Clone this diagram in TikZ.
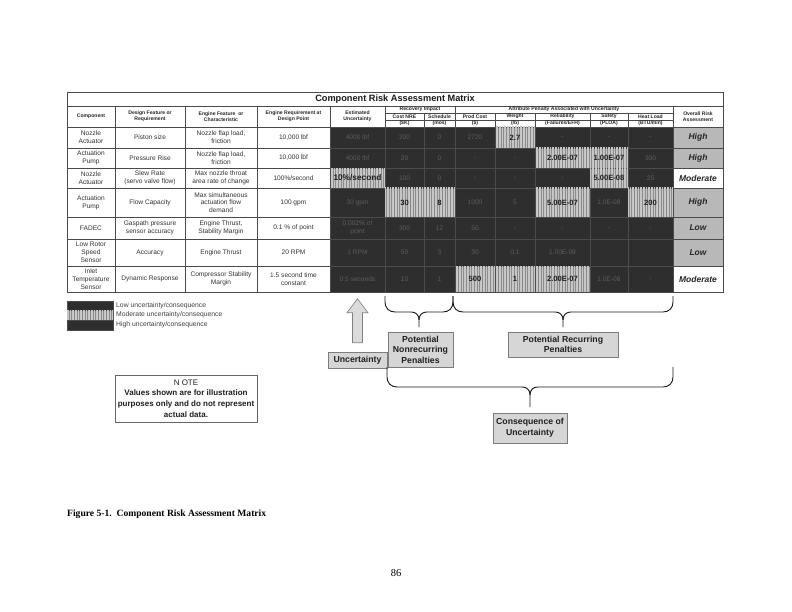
\documentclass[tikz,border=0pt]{standalone}
\usepackage{fontspec}
\setmainfont{Liberation Sans}
\newfontfamily\seriffont{Liberation Serif}
\usetikzlibrary{patterns.meta,calc}
\definecolor{dkfill}{HTML}{2E2E2E}
\definecolor{dktext}{HTML}{5C5C5C}
\definecolor{modbase}{HTML}{8C8C8C}
\definecolor{modstripe}{HTML}{C6C6C6}
\definecolor{ltfill}{HTML}{B8B8B8}
\definecolor{gridc}{HTML}{4A4A4A}
\definecolor{callfill}{HTML}{D6D6D6}
\definecolor{callline}{HTML}{7C7C7C}
\tikzset{
  cw/.style={draw=gridc,line width=0.45pt,fill=white},
  cwt/.style={font=\fontsize{6.6}{7.8}\selectfont,align=center,text=black!80,inner sep=0pt},
  ch/.style={draw=gridc,line width=0.45pt,fill=white},
  cht/.style={font=\bfseries\fontsize{5.1}{5.9}\selectfont,align=center,text=black!85,inner sep=0pt},
  cti/.style={draw=gridc,line width=0.45pt,fill=white},
  ctit/.style={font=\bfseries\fontsize{9.2}{10}\selectfont,text=black!90,inner sep=0pt},
  cdk/.style={draw=black!70,line width=0.4pt,fill=dkfill},
  cdkt/.style={font=\fontsize{6.6}{7.6}\selectfont,align=center,text=dktext,inner sep=0pt},
  cmd/.style={draw=black!70,line width=0.4pt,fill=modbase,
     postaction={pattern={Lines[angle=90,distance=1.6pt,line width=0.7pt]},pattern color=modstripe}},
  cmdt/.style={font=\bfseries\fontsize{7.6}{8.5}\selectfont,align=center,text=black!88,inner sep=0pt},
  cr/.style={draw=gridc,line width=0.45pt,fill=ltfill},
  crt/.style={font=\bfseries\itshape\fontsize{8.5}{9.5}\selectfont,text=black!85,inner sep=0pt},
  cwr/.style={draw=gridc,line width=0.45pt,fill=white},
  cwrt/.style={font=\bfseries\itshape\fontsize{8.5}{9.5}\selectfont,text=black!85,inner sep=0pt},
  legt/.style={font=\fontsize{6.8}{8}\selectfont,text=black!75,inner sep=0pt,anchor=west},
  callout/.style={draw=callline,line width=0.6pt,fill=callfill,align=center,inner sep=0pt,
     font=\bfseries\fontsize{8.7}{10.6}\selectfont,text=black!88},
  notebox/.style={draw=black!60,line width=0.6pt,fill=white,align=center,inner sep=0pt,
     font=\fontsize{8}{10.8}\selectfont,text=black!88},
  bracel/.style={draw=black!90,line width=0.9pt},
  blockarr/.style={draw=black!50,line width=0.6pt,fill=black!14}
}
% cell with explicit corners
\newcommand\T[7]{\path[#1] (#3,#4) rectangle (#5,#6);
  \node[#1t] (#2) at ({(#3+#5)/2},{(#4+#6)/2}) {#7};}
% cell in current row
\newcommand\C[5]{\T{#1}{#2}{#3}{\ya}{#4}{\yb}{#5}}
% curly brace pointing down
\newcommand\bracedown[5]{%
  \pgfmathsetmacro\xc{(#1+#2)/2}
  \draw[bracel] (#1,#3) -- (#1,#4-10) .. controls (#1,#4-4) and (#1+4,#4) .. (#1+10,#4)
     -- (\xc-8,#4) .. controls (\xc-3,#4) and (\xc,#4+3) .. (\xc,#4+8) -- (\xc,#5);
  \draw[bracel] (#2,#3) -- (#2,#4-10) .. controls (#2,#4-4) and (#2-4,#4) .. (#2-10,#4)
     -- (\xc+8,#4) .. controls (\xc+3,#4) and (\xc,#4+3) .. (\xc,#4+8);
}
\begin{document}
\begin{tikzpicture}[x=1pt,y=-1pt]
\useasboundingbox[fill=white] (0,0) rectangle (792,612);

% title row
\T{cti}{title}{67}{92}{723}{106}{Component Risk Assessment Matrix}

% header
\def\ya{106}\def\yb{127}
\C{ch}{h1}{67}{115}{Component}
\C{ch}{h2}{115}{185}{Design Feature or\\Requirement}
\C{ch}{h3}{185}{257}{Engine Feature\ \ or\\Characteristic}
\C{ch}{h4}{257}{330}{Engine Requirement at\\Design Point}
\C{ch}{h5}{330}{385}{Estimated\\Uncertainty}
\C{ch}{h13}{673}{723}{Overall Risk\\Assessment}
\T{ch}{hri}{385}{106}{455}{113}{Recovery Impact}
\T{ch}{hap}{455}{106}{673}{113}{Attribute Penalty Associated with Uncertainty}
\def\ya{113}\def\yb{120}
\C{ch}{h6}{385}{424}{Cost NRE}
\C{ch}{h7}{424}{455}{Schedule}
\C{ch}{h8}{455}{495}{Prod Cost}
\C{ch}{h9}{495}{535}{Weight}
\C{ch}{h10}{535}{590}{Reliability}
\C{ch}{h11}{590}{628}{Safety}
\C{ch}{h12}{628}{673}{Heat Load}
\def\ya{120}\def\yb{127}
\C{ch}{u6}{385}{424}{(\$K)}
\C{ch}{u7}{424}{455}{(mos)}
\C{ch}{u8}{455}{495}{(\$)}
\C{ch}{u9}{495}{535}{(lb)}
\C{ch}{u10}{535}{590}{(Failures/EFH)}
\C{ch}{u11}{590}{628}{(PLOA)}
\C{ch}{u12}{628}{673}{(BTU/min)}

% row 1
\def\ya{127}\def\yb{148}
\C{cw}{r1a}{67}{115}{Nozzle\\Actuator}
\C{cw}{r1b}{115}{185}{Piston size}
\C{cw}{r1c}{185}{257}{Nozzle flap load,\\friction}
\C{cw}{r1d}{257}{330}{10,000 lbf}
\C{cdk}{r1e}{330}{385}{4000 lbf}
\C{cdk}{r1f}{385}{424}{200}
\C{cdk}{r1g}{424}{455}{0}
\C{cdk}{r1h}{455}{495}{2720}
\C{cmd}{r1i}{495}{535}{2.7}
\C{cdk}{r1j}{535}{590}{-}
\C{cdk}{r1k}{590}{628}{-}
\C{cdk}{r1l}{628}{673}{-}
\C{cr}{r1m}{673}{723}{High}

% row 2
\def\ya{148}\def\yb{168}
\C{cw}{r2a}{67}{115}{Actuation\\Pump}
\C{cw}{r2b}{115}{185}{Pressure Rise}
\C{cw}{r2c}{185}{257}{Nozzle flap load,\\friction}
\C{cw}{r2d}{257}{330}{10,000 lbf}
\C{cdk}{r2e}{330}{385}{4000 lbf}
\C{cdk}{r2f}{385}{424}{20}
\C{cdk}{r2g}{424}{455}{0}
\C{cdk}{r2h}{455}{495}{-}
\C{cdk}{r2i}{495}{535}{-}
\C{cmd}{r2j}{535}{590}{2.00E-07}
\C{cmd}{r2k}{590}{628}{1.00E-07}
\C{cdk}{r2l}{628}{673}{300}
\C{cr}{r2m}{673}{723}{High}

% row 3
\def\ya{168}\def\yb{188}
\C{cw}{r3a}{67}{115}{Nozzle\\Actuator}
\C{cw}{r3b}{115}{185}{Slew Rate\\(servo valve flow)}
\C{cw}{r3c}{185}{257}{Max nozzle throat\\area rate of change}
\C{cw}{r3d}{257}{330}{100\%/second}
\C{cmd}{r3e}{330}{385}{\fontsize{8.3}{9}\selectfont 10\%/second}
\C{cdk}{r3f}{385}{424}{100}
\C{cdk}{r3g}{424}{455}{0}
\C{cdk}{r3h}{455}{495}{-}
\C{cdk}{r3i}{495}{535}{-}
\C{cdk}{r3j}{535}{590}{-}
\C{cmd}{r3k}{590}{628}{5.00E-08}
\C{cdk}{r3l}{628}{673}{25}
\C{cwr}{r3m}{673}{723}{Moderate}

% row 4
\def\ya{188}\def\yb{217}
\C{cw}{r4a}{67}{115}{Actuation\\Pump}
\C{cw}{r4b}{115}{185}{Flow Capacity}
\C{cw}{r4c}{185}{257}{Max simultaneous\\actuation flow\\demand}
\C{cw}{r4d}{257}{330}{100 gpm}
\C{cdk}{r4e}{330}{385}{30 gpm}
\C{cmd}{r4f}{385}{424}{30}
\C{cmd}{r4g}{424}{455}{8}
\C{cdk}{r4h}{455}{495}{1000}
\C{cdk}{r4i}{495}{535}{5}
\C{cmd}{r4j}{535}{590}{5.00E-07}
\C{cdk}{r4k}{590}{628}{1.0E-08}
\C{cmd}{r4l}{628}{673}{200}
\C{cr}{r4m}{673}{723}{High}

% row 5
\def\ya{217}\def\yb{239}
\C{cw}{r5a}{67}{115}{FADEC}
\C{cw}{r5b}{115}{185}{Gaspath pressure\\sensor accuracy}
\C{cw}{r5c}{185}{257}{Engine Thrust,\\Stability Margin}
\C{cw}{r5d}{257}{330}{0.1 \% of point}
\C{cdk}{r5e}{330}{385}{0.002\% of\\point}
\C{cdk}{r5f}{385}{424}{300}
\C{cdk}{r5g}{424}{455}{12}
\C{cdk}{r5h}{455}{495}{50}
\C{cdk}{r5i}{495}{535}{-}
\C{cdk}{r5j}{535}{590}{-}
\C{cdk}{r5k}{590}{628}{-}
\C{cdk}{r5l}{628}{673}{-}
\C{cr}{r5m}{673}{723}{Low}

% row 6
\def\ya{239}\def\yb{266}
\C{cw}{r6a}{67}{115}{Low Rotor\\Speed\\Sensor}
\C{cw}{r6b}{115}{185}{Accuracy}
\C{cw}{r6c}{185}{257}{Engine Thrust}
\C{cw}{r6d}{257}{330}{20 RPM}
\C{cdk}{r6e}{330}{385}{1 RPM}
\C{cdk}{r6f}{385}{424}{50}
\C{cdk}{r6g}{424}{455}{3}
\C{cdk}{r6h}{455}{495}{30}
\C{cdk}{r6i}{495}{535}{0.1}
\C{cdk}{r6j}{535}{590}{1.00E-09}
\C{cdk}{r6k}{590}{628}{}
\C{cdk}{r6l}{628}{673}{}
\C{cr}{r6m}{673}{723}{Low}

% row 7
\def\ya{266}\def\yb{292}
\C{cw}{r7a}{67}{115}{Inlet\\Temperature\\Sensor}
\C{cw}{r7b}{115}{185}{Dynamic Response}
\C{cw}{r7c}{185}{257}{Compressor Stability\\Margin}
\C{cw}{r7d}{257}{330}{1.5 second time\\constant}
\C{cdk}{r7e}{330}{385}{0.5 seconds}
\C{cdk}{r7f}{385}{424}{10}
\C{cdk}{r7g}{424}{455}{1}
\C{cmd}{r7h}{455}{495}{500}
\C{cmd}{r7i}{495}{535}{1}
\C{cmd}{r7j}{535}{590}{2.00E-07}
\C{cdk}{r7k}{590}{628}{1.0E-08}
\C{cdk}{r7l}{628}{673}{-}
\C{cwr}{r7m}{673}{723}{Moderate}

% outer frame
\draw[gridc,line width=0.8pt] (67,92) rectangle (723,292);

% legend
\T{cdk}{lg1}{67}{301}{113}{310}{}
\T{cmd}{lg2}{67}{310}{113}{320}{}
\T{cdk}{lg3}{67}{320}{113}{330}{}
\node[legt] (lgt1) at ($(lg1.center)+(26,0)$) {Low uncertainty/consequence};
\node[legt] (lgt2) at ($(lg2.center)+(26,0)$) {Moderate uncertainty/consequence};
\node[legt] (lgt3) at ($(lg3.center)+(26,0)$) {High uncertainty/consequence};

% callouts
\node[callout,minimum width=59pt,minimum height=16pt] (unc) at (357.5,360) {Uncertainty};
\node[callout,minimum width=65pt,minimum height=35pt] (nonrec) at (420.5,349.5) {Potential\\Nonrecurring\\Penalties};
\node[callout,minimum width=110pt,minimum height=25pt] (rec) at (563,344.5) {Potential Recurring\\Penalties};
\node[callout,minimum width=74pt,minimum height=30pt] (cons) at (530,428) {Consequence of\\Uncertainty};

% uncertainty block arrow
\draw[blockarr] ($(unc.north)+(-5,-9)$) -- ($(unc.north)+(-5,-39)$) -- ($(unc.north)+(-10.5,-39)$)
  -- ($(unc.north)+(0,-53)$) -- ($(unc.north)+(10.5,-39)$) -- ($(unc.north)+(5,-39)$)
  -- ($(unc.north)+(5,-9)$) -- cycle;

% braces
\bracedown{385}{453}{296}{312}{327}
\bracedown{453}{673}{296}{312}{327}
\bracedown{387}{673}{367}{387}{407}

% note
\node[notebox,minimum width=142pt,minimum height=47pt] (note) at (186,398.5)
  {N OTE\\\textbf{Values shown are for illustration}\\\textbf{purposes only and do not represent}\\\textbf{actual data.}};

% caption and page number
\node[anchor=west,inner sep=0pt,font=\seriffont\bfseries\fontsize{9.6}{11}\selectfont] (cap) at (67,514)
  {Figure 5-1.\ \ Component Risk Assessment Matrix};
\node[inner sep=0pt,font=\seriffont\fontsize{10.5}{12}\selectfont] (pg) at (396,573) {86};
\end{tikzpicture}
\end{document}
